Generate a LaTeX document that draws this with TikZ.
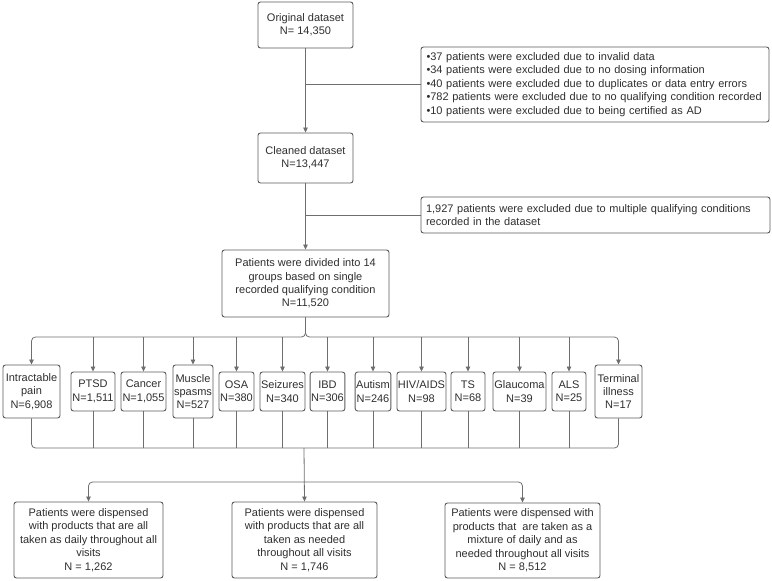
\documentclass[tikz,border=0pt]{standalone}
\usepackage{fontspec}
\setmainfont{Liberation Sans}
\usetikzlibrary{arrows.meta}
\definecolor{linec}{HTML}{6E6E6E}
\definecolor{boxc}{HTML}{5A5A5A}
\definecolor{txtc}{HTML}{2E2E2E}
\begin{document}
\begin{tikzpicture}[x=1pt,y=-1pt,
  font=\fontsize{11}{13.4}\selectfont,
  box/.style={draw=boxc, line width=0.9pt, rounded corners=2.5pt, text=txtc, align=center, inner sep=1pt},
  lbox/.style={draw=boxc, line width=0.9pt, rounded corners=2.5pt, text=txtc, align=left, inner xsep=5pt, inner ysep=1pt},
  conn/.style={draw=linec, line width=0.8pt},
  arr/.style={conn, -{Triangle[length=5pt,width=4.5pt]}}]
\useasboundingbox (0,0) rectangle (772,581);

% main column
\node[box, minimum width=95pt, minimum height=46pt] (orig) at (305.5,25) {Original dataset\\N= 14,350};
\node[box, minimum width=95pt, minimum height=50pt] (clean) at (305.5,158) {Cleaned dataset\\N=13,447};
\node[box, minimum width=167pt, minimum height=67pt] (split14) at (305.5,283.5) {Patients were divided into 14\\groups based on single\\recorded qualifying condition\\N=11,520};

% exclusions
\node[lbox, minimum width=348pt, minimum height=75pt, text width=337pt] (ex1) at (595,84.5)
 {•37 patients were excluded due to invalid data\\
  •34 patients were excluded due to no dosing information\\
  •40 patients were excluded due to duplicates or data entry errors\\
  •782 patients were excluded due to no qualifying condition recorded\\
  •10 patients were excluded due to being certified as AD};
\node[lbox, minimum width=349pt, minimum height=36pt, text width=339pt] (ex2) at (595.5,215)
 {1,927 patients were excluded due to multiple qualifying conditions\\recorded in the dataset};

\draw[arr] (orig) -- (clean);
\draw[arr] (clean) -- (split14);
\coordinate (j1) at (305.5,84.5);
\coordinate (j2) at (305.5,215);
\draw[conn] (j1) -- (ex1.west);
\draw[conn] (j2) -- (ex2.west);

% groups
\node[box, minimum width=57pt, minimum height=53pt] (pain) at (31.5,391.5) {Intractable\\pain\\N=6,908};
\node[box, minimum width=44pt, minimum height=39pt] (ptsd) at (93,391.5) {PTSD\\N=1,511};
\node[box, minimum width=45pt, minimum height=39pt] (cancer) at (143.5,391.5) {Cancer\\N=1,055};
\node[box, minimum width=40pt, minimum height=53pt] (muscle) at (193,391.5) {Muscle\\spasms\\N=527};
\node[box, minimum width=35pt, minimum height=39pt] (osa) at (236.5,391.5) {OSA\\N=380};
\node[box, minimum width=45pt, minimum height=39pt] (seiz) at (282.5,391.5) {Seizures\\N=340};
\node[box, minimum width=33pt, minimum height=39pt] (ibd) at (327.5,391.5) {IBD\\N=306};
\node[box, minimum width=34pt, minimum height=39pt] (autism) at (373,391.5) {Autism\\N=246};
\node[box, minimum width=49pt, minimum height=39pt] (hiv) at (421.5,391.5) {HIV/AIDS\\N=98};
\node[box, minimum width=34pt, minimum height=39pt] (ts) at (468,391.5) {TS\\N=68};
\node[box, minimum width=53pt, minimum height=39pt] (glau) at (519.5,391.5) {Glaucoma\\N=39};
\node[box, minimum width=34pt, minimum height=39pt] (als) at (569,391.5) {ALS\\N=25};
\node[box, minimum width=47pt, minimum height=53pt] (term) at (618.5,391.5) {Terminal\\illness\\N=17};

\coordinate (bus) at (305.5,337);
\coordinate (low) at (304,448);
\coordinate (fork) at (304,482);

\draw[arr, rounded corners=4pt] (split14.south) -- (bus) -| (pain.north);
\draw[arr, rounded corners=4pt] (split14.south) -- (bus) -| (term.north);
\foreach \g in {ptsd,cancer,muscle,osa,seiz,ibd,autism,hiv,ts,glau,als}
  \draw[arr] (bus -| \g.north) -- (\g.north);

\draw[conn, rounded corners=4pt] (pain.south) |- (low) -| (term.south);
\foreach \g in {ptsd,cancer,muscle,osa,seiz,ibd,autism,hiv,ts,glau,als}
  \draw[conn] (\g.south) -- (\g.south |- low);

% outcomes
\node[box, minimum width=149pt, minimum height=76pt] (daily) at (88.5,540) {Patients were dispensed\\with products that are all\\taken as daily throughout all\\visits\\N = 1,262};
\node[box, minimum width=145pt, minimum height=76pt] (needed) at (304.5,540) {Patients were dispensed\\with products that are all\\taken as needed\\throughout all visits\\N = 1,746};
\node[box, minimum width=155pt, minimum height=75pt] (mixed) at (522.5,540.5) {Patients were dispensed with\\products that\ \ are taken as a\\mixture of daily and as\\needed throughout all visits\\N = 8,512};

\draw[arr] (low) -- (needed.north);
\draw[arr, rounded corners=4pt] (fork) -| (daily.north);
\draw[arr, rounded corners=4pt] (fork) -| (mixed.north);
\end{tikzpicture}
\end{document}
